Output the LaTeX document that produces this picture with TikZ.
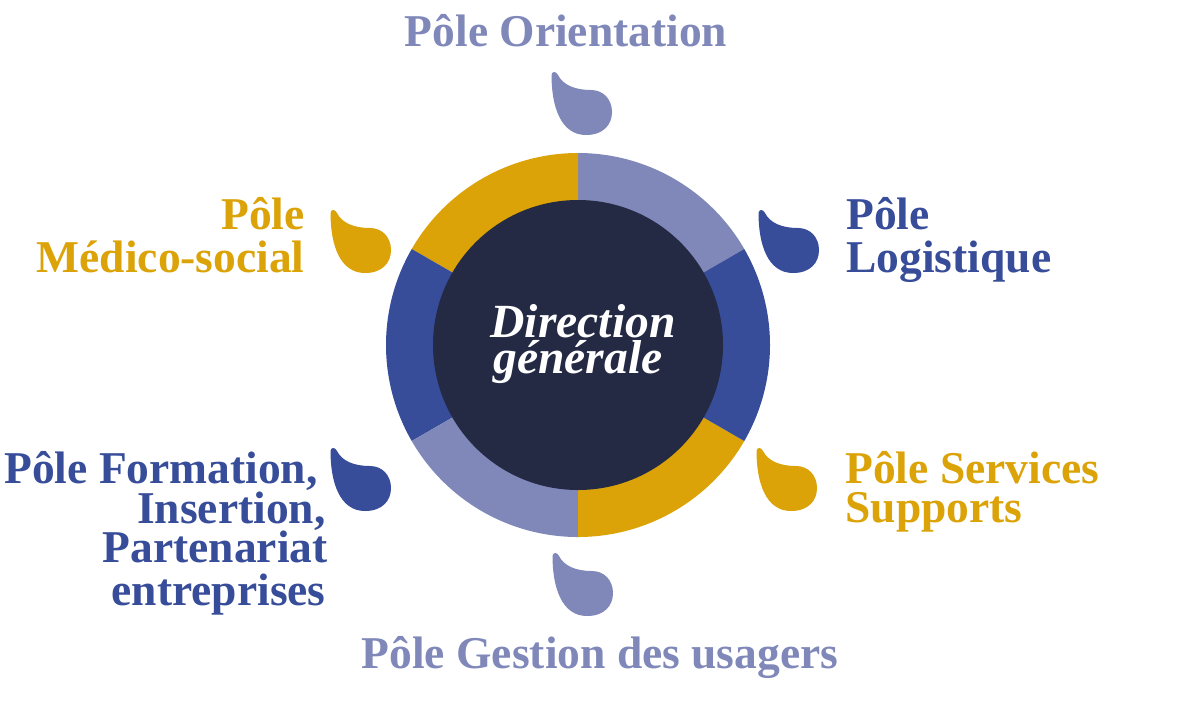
\documentclass[tikz,border=0pt]{standalone}
\usepackage{fontspec}
\setmainfont{Liberation Serif}
\definecolor{lp}{HTML}{7F88B9}
\definecolor{bl}{HTML}{374D9A}
\definecolor{gd}{HTML}{DBA307}
\definecolor{nv}{HTML}{242944}
\begin{document}
\begin{tikzpicture}[x=0.5pt,y=-0.5pt,
  lbl/.style={font=\fontsize{22.75}{27}\selectfont\bfseries, inner sep=0pt, text height=15pt, text depth=4pt},
  ctr/.style={font=\fontsize{23.8}{28}\selectfont\bfseries\itshape, text=white, inner sep=0pt, anchor=base, text height=14.5pt, text depth=3pt},
  drop/.pic={\fill[pic actions] (-1.5,3) .. controls (-1.5,35) and (8,63) .. (33,63)
      .. controls (50,63) and (59,53) .. (59,40)
      .. controls (59,27) and (50,18) .. (38,18)
      .. controls (22,18) and (10,13) .. (5,3)
      .. controls (3,-1) and (-1,-1) .. (-1.5,3) -- cycle;}]
\useasboundingbox (0,0) rectangle (1198,708);
\fill[white] (0,0) rectangle (1198,708);
\coordinate (c) at (578,345);
% ring segments (angles negated because y points down)
\fill[lp] (c) -- ++(-30:192) arc[start angle=-30,end angle=-90,radius=192] -- cycle;
\fill[gd] (c) -- ++(-90:192) arc[start angle=-90,end angle=-150,radius=192] -- cycle;
\fill[bl] (c) -- ++(-150:192) arc[start angle=-150,end angle=-210,radius=192] -- cycle;
\fill[lp] (c) -- ++(-210:192) arc[start angle=-210,end angle=-270,radius=192] -- cycle;
\fill[gd] (c) -- ++(-270:192) arc[start angle=-270,end angle=-330,radius=192] -- cycle;
\fill[bl] (c) -- ++(-330:192) arc[start angle=-330,end angle=-390,radius=192] -- cycle;
\node (dg) [circle, fill=nv, minimum size=145pt, inner sep=0pt] at (c) {};
\node[ctr] (dg1) at (583,337) {Direction};
\node[ctr] (dg2) at (578,373) {générale};
% drops
\pic[fill=lp] (d1) at (553,72) {drop};
\pic[fill=bl] (d2) at (760,210) {drop};
\pic[fill=gd] (d3) at (758,448) {drop};
\pic[fill=lp] (d4) at (554,553) {drop};
\pic[fill=bl] (d5) at (332,448) {drop};
\pic[fill=gd] (d6) at (332,210) {drop};
% labels
\node[lbl, text=lp, anchor=base] (or) at (566,46) {Pôle Orientation};
\node[lbl, text=bl, anchor=base west] (lo1) at (846,229) {Pôle};
\node[lbl, text=bl, anchor=base west] (lo2) at (846,272) {Logistique};
\node[lbl, text=gd, anchor=base west] (ss1) at (845,483) {Pôle Services};
\node[lbl, text=gd, anchor=base west] (ss2) at (845,522) {Supports};
\node[lbl, text=lp, anchor=base] (gu) at (600,668) {Pôle Gestion des usagers};
\node[lbl, text=gd, anchor=base east] (ms1) at (305,229) {Pôle};
\node[lbl, text=gd, anchor=base east] (ms2) at (305,272) {Médico-social};
\node[lbl, text=bl, anchor=base east] (fi1) at (318,483) {Pôle Formation,};
\node[lbl, text=bl, anchor=base east] (fi2) at (326,523) {Insertion,};
\node[lbl, text=bl, anchor=base east] (fi3) at (328,562) {Partenariat};
\node[lbl, text=bl, anchor=base east] (fi4) at (326,605) {entreprises};
\end{tikzpicture}
\end{document}
